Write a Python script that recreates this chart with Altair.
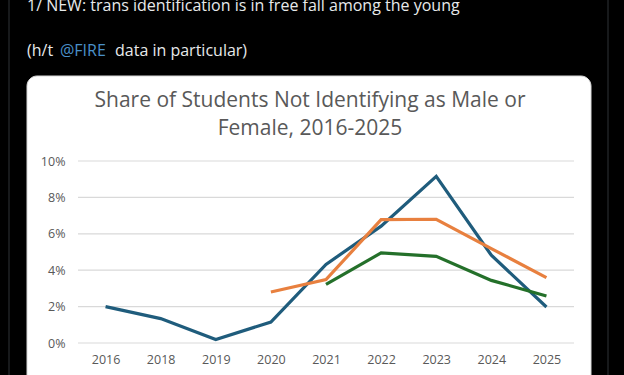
import altair as alt
import pandas as pd

# ---- data ----
years = ["2016", "2018", "2019", "2020", "2021", "2022", "2023", "2024", "2025"]
series_a = [2.0, 1.34, 0.19, 1.15, 4.32, 6.42, 9.16, 4.82, 1.98]
years_b = ["2020", "2021", "2022", "2023", "2024", "2025"]
series_b = [2.8, 3.48, 6.78, 6.8, 5.19, 3.59]
years_c = ["2021", "2022", "2023", "2024", "2025"]
series_c = [3.22, 4.95, 4.76, 3.44, 2.58]
series_names = ["Series 1", "Series 2", "Series 3"]
series_colors = ["#1f5c7c", "#e8803f", "#24702a"]
y_ticks = [0, 2, 4, 6, 8, 10]

title_lines = ["Share of Students Not Identifying as Male or", "Female, 2016-2025"]
tweet_line1 = "1/ NEW: trans identification is in free fall among the young"
tweet_pre = "(h/t"
tweet_link = "@FIRE"
tweet_post = "data in particular)"

rows = []
for y, v in zip(years, series_a):
    rows.append({"year": y, "value": v, "series": series_names[0]})
for y, v in zip(years_b, series_b):
    rows.append({"year": y, "value": v, "series": series_names[1]})
for y, v in zip(years_c, series_c):
    rows.append({"year": y, "value": v, "series": series_names[2]})
df = pd.DataFrame(rows)

W, H = 496, 182
FONT = "Open Sans"
GRAY = "#595959"

x_enc = alt.X("year:O", sort=years, scale=alt.Scale(domain=years, type="point", padding=0.5),
              axis=alt.Axis(title=None, domain=False, ticks=False, tickSize=0, labelAngle=0,
                            labelPadding=10, labelFont=FONT, labelFontSize=12.5,
                            labelColor=GRAY, grid=False, zindex=1))
y_scale = alt.Scale(domain=[0, 10], nice=False)
y_axis = alt.Axis(title=None, values=y_ticks, domain=False, ticks=False, tickSize=0, grid=False,
                  labelExpr="datum.value + '%'", labelPadding=13, labelFont=FONT,
                  labelFontSize=12.5, labelColor=GRAY, labelOverlap=False, zindex=1)

# card background
card = alt.Chart(pd.DataFrame({"k": [0]})).mark_rect(
    fill="white", cornerRadius=10, stroke="#d8d8d8", strokeWidth=1
).encode(x=alt.value(-51), x2=alt.value(513), y=alt.value(-85), y2=alt.value(240))

# column borders
borders = alt.Chart(pd.DataFrame({"k": [0]})).mark_rule(color="#2f3336", strokeWidth=1).encode(
    y=alt.value(-165), y2=alt.value(220), x=alt.value(-69))
borders2 = alt.Chart(pd.DataFrame({"k": [0]})).mark_rule(color="#2f3336", strokeWidth=1).encode(
    y=alt.value(-165), y2=alt.value(220), x=alt.value(530))

# gridlines
grid = alt.Chart(pd.DataFrame({"t": y_ticks})).mark_rule(color="#d9d9d9", strokeWidth=1.2).encode(
    y=alt.Y("t:Q", scale=y_scale, axis=y_axis),
    x=alt.value(0), x2=alt.value(W))

lines = alt.Chart(df).mark_line(strokeWidth=3.2).encode(
    x=x_enc,
    y=alt.Y("value:Q", scale=y_scale, axis=y_axis),
    color=alt.Color("series:N", scale=alt.Scale(domain=series_names, range=series_colors), legend=None),
    detail="series:N",
)

def text_layer(txt, x, y, color, size, font, align="left", baseline="alphabetic"):
    return alt.Chart(pd.DataFrame({"t": [txt]})).mark_text(
        align=align, baseline=baseline, color=color, fontSize=size, font=font
    ).encode(text="t:N", x=alt.value(x), y=alt.value(y))

title1 = text_layer(title_lines[0], 232, -60, GRAY, 21, FONT, align="center", baseline="middle")
title2 = text_layer(title_lines[1], 232, -32, GRAY, 21, FONT, align="center", baseline="middle")

tw1 = text_layer(tweet_line1, -51, -150, "#e7e9ea", 16, FONT)
tw2a = text_layer(tweet_pre, -51, -105, "#e7e9ea", 16, FONT)
tw2b = text_layer(tweet_link, -18, -105, "#4a90c8", 16, FONT)
tw2c = text_layer(tweet_post, 37, -105, "#e7e9ea", 16, FONT)

chart = alt.layer(
    card, borders, borders2, grid, lines, title1, title2, tw1, tw2a, tw2b, tw2c
).properties(
    width=W, height=H, background="black",
    padding={"left": 78, "top": 161, "right": 50, "bottom": 32},
    autosize=alt.AutoSizeParams(type="none"),
).configure_view(stroke=None)

chart.save("out.html", embed_options={"renderer": "svg", "actions": False})
